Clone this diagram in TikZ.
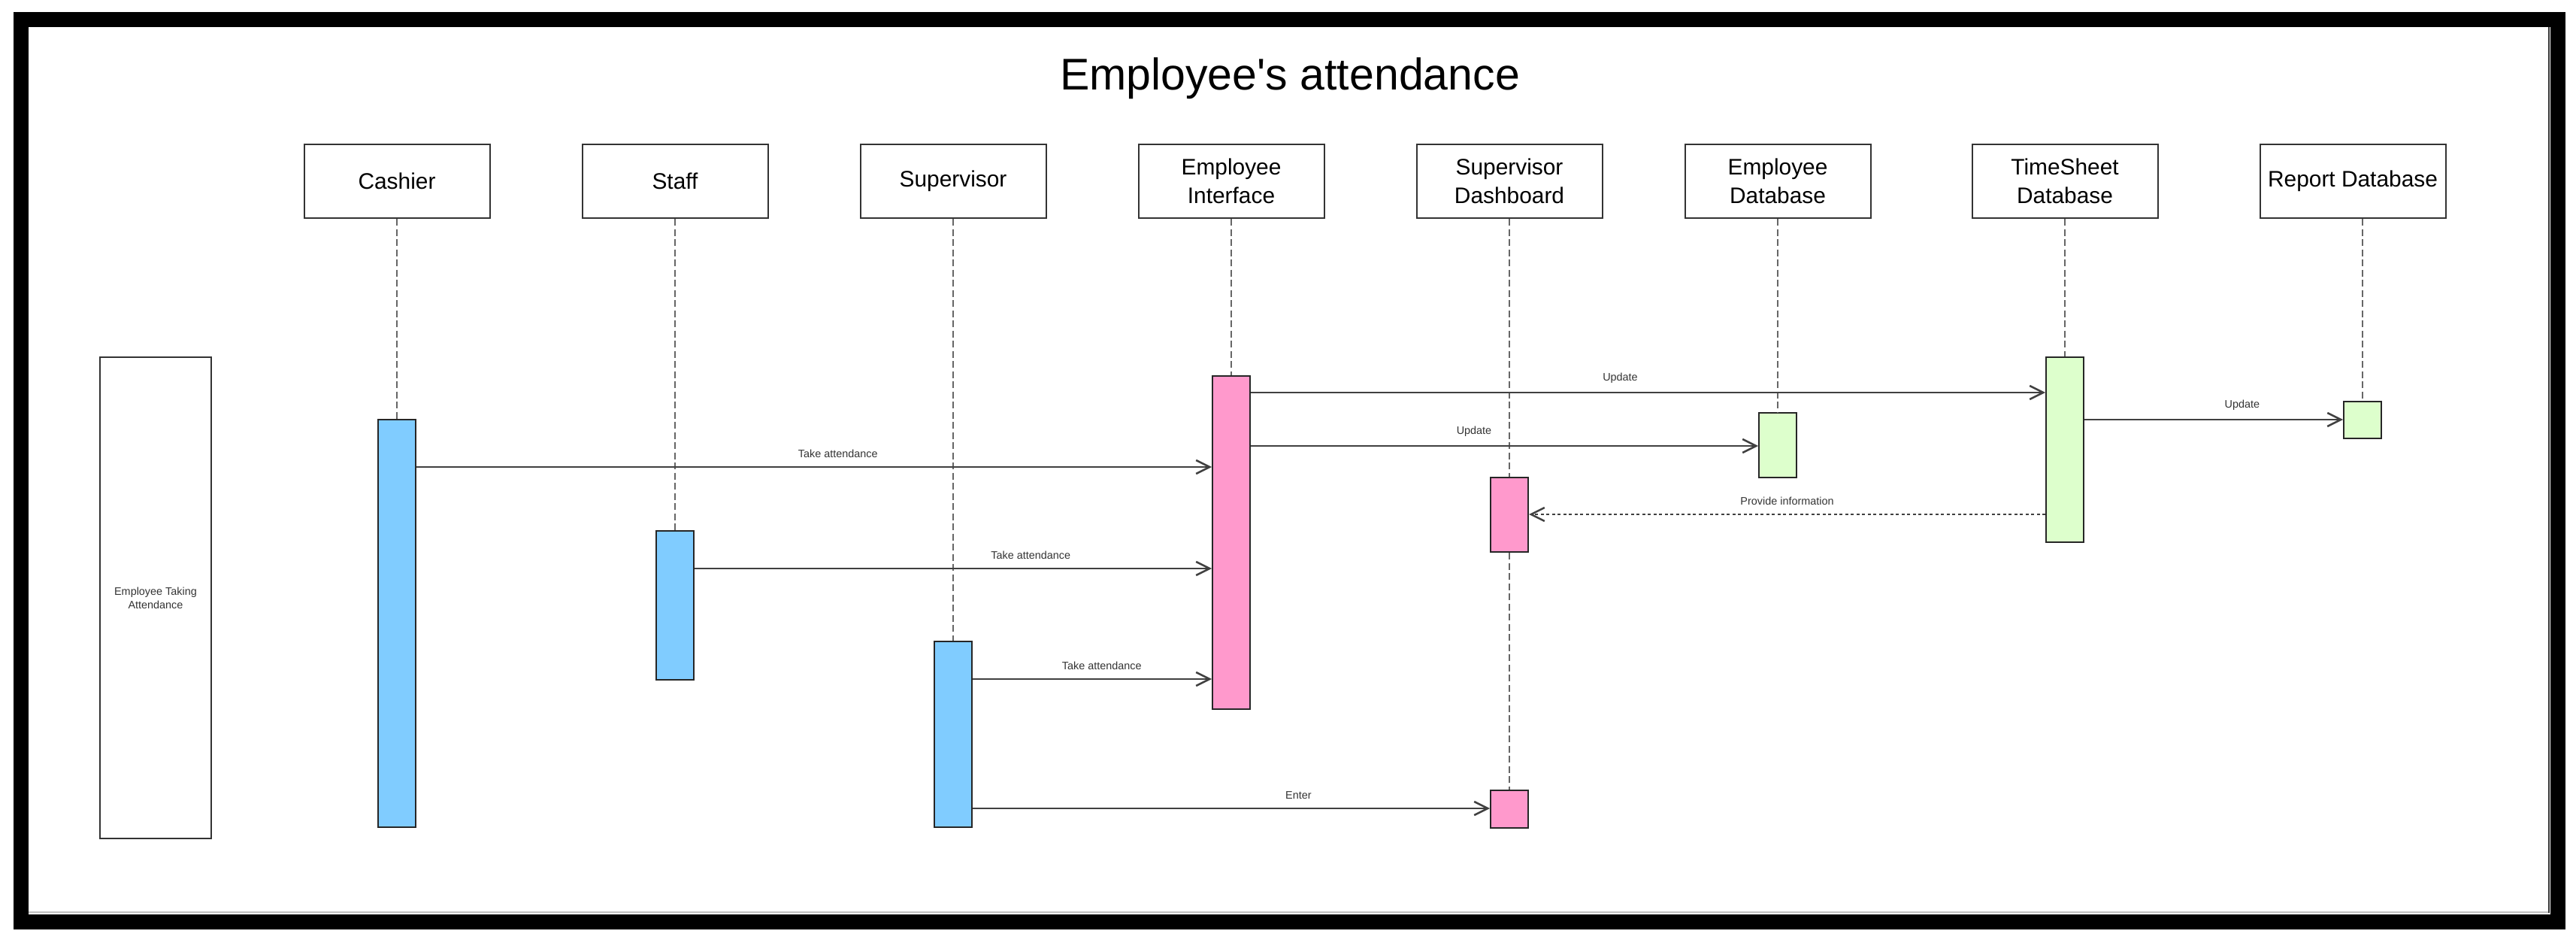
\documentclass[tikz,border=0pt]{standalone}
\usepackage{fontspec}
\setmainfont{Liberation Sans}
\usetikzlibrary{arrows.meta,calc}
\definecolor{actblue}{HTML}{80CCFF}
\definecolor{actpink}{HTML}{FF99CC}
\definecolor{actgreen}{HTML}{DDFFCC}

\begin{document}
\begin{tikzpicture}[>={Straight Barb[length=1.8mm,width=1.8mm]},
  obj/.style={draw=black!80, line width=0.2mm, minimum width=2.47cm, minimum height=0.98cm, align=center, inner sep=1pt, font=\fontsize{8.5}{10.8}\selectfont},
  act/.style={draw=black!85, line width=0.2mm, minimum width=0.5cm, inner sep=0pt},
  life/.style={draw=black!60, line width=0.15mm, dash pattern=on 0.9mm off 0.45mm},
  msg/.style={->, draw=black!75, line width=0.25mm},
  ret/.style={->, draw=black!75, line width=0.25mm, dash pattern=on 0.4mm off 0.35mm},
  lbl/.style={font=\fontsize{4.1}{5}\selectfont, text=black!80, above, inner sep=1.1mm}]
  \useasboundingbox (0,0) rectangle (34.27,-12.53);
  \draw[line width=2mm] (0.28,-0.26) rectangle (34.03,-12.26);
  \draw[gray!50, line width=0.2mm] (0.38,-12.13) -- (33.905,-12.13);
  \draw[black!80, line width=0.2mm] (33.905,-12.14) -- (33.905,-0.36);
  \node[font=\fontsize{16.8}{20}\selectfont] (title) at (17.16,-1.045) {Employee\textquotesingle s attendance};
  \node[obj] (cash) at (5.28,-2.41) {Cashier};
  \node[obj] (staff) at (8.98,-2.41) {Staff};
  \node[obj] (sup) at (12.68,-2.41) {Supervisor};
  \node[obj] (ei) at (16.38,-2.41) {Employee\\Interface};
  \node[obj] (sd) at (20.08,-2.41) {Supervisor\\Dashboard};
  \node[obj] (edb) at (23.65,-2.41) {Employee\\Database};
  \node[obj] (ts) at (27.47,-2.41) {TimeSheet\\Database};
  \node[obj] (rdb) at (31.30,-2.41) {Report Database};
  \node[draw=black!80, line width=0.2mm, minimum width=1.48cm, minimum height=6.40cm, align=center, font=\fontsize{4.1}{5.2}\selectfont, text=black!80] (uc) at (2.07,-7.95) {Employee Taking\\Attendance};
  \node[act, fill=actblue, minimum height=5.42cm] (cashA) at (5.28,-8.29) {};
  \node[act, fill=actblue, minimum height=1.98cm] (staffA) at (8.98,-8.05) {};
  \node[act, fill=actblue, minimum height=2.47cm] (supA) at (12.68,-9.765) {};
  \node[act, fill=actpink, minimum height=4.43cm] (eiA) at (16.38,-7.215) {};
  \node[act, fill=actpink, minimum height=0.99cm] (sdA) at (20.08,-6.845) {};
  \node[act, fill=actpink, minimum height=0.50cm] (sdB) at (20.08,-10.76) {};
  \node[act, fill=actgreen, minimum height=0.86cm] (edbA) at (23.65,-5.92) {};
  \node[act, fill=actgreen, minimum height=2.46cm] (tsA) at (27.47,-5.98) {};
  \node[act, fill=actgreen, minimum height=0.49cm] (rdbA) at (31.43,-5.585) {};
  \foreach \o/\a in {cash/cashA, staff/staffA, sup/supA, ei/eiA, sd/sdA, edb/edbA, ts/tsA}
    \draw[life] (\o.south) -- (\a.north);
  \draw[life] (sdA.south) -- (sdB.north);
  \draw[life] (rdbA.north |- rdb.south) -- (rdbA.north);
  \draw[msg] (cashA.east |- 0,-6.21) -- node[lbl, pos=0.53] {Take attendance} (eiA.west |- 0,-6.21);
  \draw[msg] (staffA.east |- 0,-7.56) -- node[lbl, pos=0.65] {Take attendance} (eiA.west |- 0,-7.56);
  \draw[msg] (supA.east |- 0,-9.03) -- node[lbl, pos=0.54] {Take attendance} (eiA.west |- 0,-9.03);
  \draw[msg] (supA.east |- 0,-10.75) -- node[lbl, pos=0.63] {Enter} (sdB.west |- 0,-10.75);
  \draw[msg] (eiA.east |- 0,-5.22) -- node[lbl, pos=0.465] {Update} (tsA.west |- 0,-5.22);
  \draw[msg] (eiA.east |- 0,-5.93) -- node[lbl, pos=0.44] {Update} (edbA.west |- 0,-5.93);
  \draw[ret] (tsA.west |- 0,-6.84) -- node[lbl] {Provide information} (sdA.east |- 0,-6.84);
  \draw[msg] (tsA.east |- 0,-5.58) -- node[lbl, pos=0.61] {Update} (rdbA.west |- 0,-5.58);
\end{tikzpicture}
\end{document}
